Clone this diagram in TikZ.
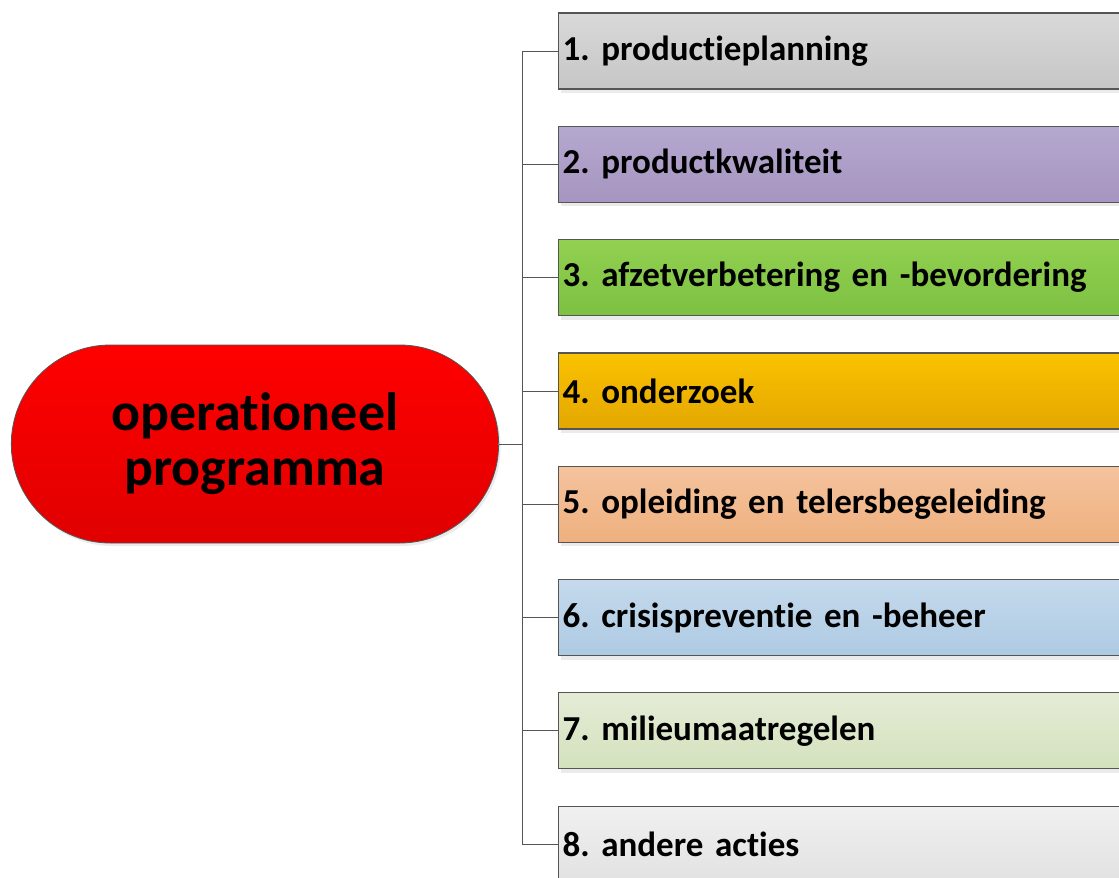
\documentclass[tikz,border=0pt]{standalone}
\usepackage{fontspec}
\setmainfont{Carlito}[Ligatures={NoCommon,NoRare}]
\usetikzlibrary{shapes.misc,shadows}
\frenchspacing

\definecolor{c1t}{HTML}{D9D9D9}\definecolor{c1b}{HTML}{C6C6C6}
\definecolor{c2t}{HTML}{B5A8CF}\definecolor{c2b}{HTML}{A595C0}
\definecolor{c3t}{HTML}{92D050}\definecolor{c3b}{HTML}{7DC142}
\definecolor{c4t}{HTML}{FBC200}\definecolor{c4b}{HTML}{E3A700}
\definecolor{c5t}{HTML}{F5C39E}\definecolor{c5b}{HTML}{EEB07E}
\definecolor{c6t}{HTML}{C5DAEC}\definecolor{c6b}{HTML}{ADCAE3}
\definecolor{c7t}{HTML}{E4ECD6}\definecolor{c7b}{HTML}{D4E1BD}
\definecolor{c8t}{HTML}{F0F0F0}\definecolor{c8b}{HTML}{E2E2E2}
\definecolor{rood}{HTML}{FF0000}\definecolor{roodb}{HTML}{E00000}
\definecolor{rand}{HTML}{555555}

\tikzset{
  hoofd/.style={rounded rectangle, draw=rand, line width=0.8pt,
    top color=rood, bottom color=roodb, minimum width=494pt, minimum height=198pt,
    align=center, font=\fontsize{54}{55}\selectfont\bfseries,
    drop shadow={shadow xshift=2pt, shadow yshift=-3pt, fill=black!8, opacity=1}},
  actie/.style={rectangle, draw=rand, line width=1.2pt, anchor=west,
    minimum height=76pt, text width=600pt, align=left, inner xsep=4pt,
    font=\fontsize{35}{36}\selectfont\bfseries,
    drop shadow={shadow xshift=2pt, shadow yshift=-4pt, fill=black!8, opacity=1}},
  lijn/.style={draw=rand, line width=0.8pt}
}

\begin{document}
\begin{tikzpicture}[x=1pt,y=-1pt]
        \useasboundingbox (0,0) rectangle (1119,878);
        \clip (0,0) rectangle (1119,878);

        % left: central node
        \node[hoofd] (prog) at (255,444) {operationeel\\programma};

        % right: the eight actions
        \foreach \i/\tekst in {1/1. productieplanning,
                               2/2. productkwaliteit,
                               3/3. afzetverbetering en -bevordering,
                               4/4. onderzoek,
                               5/5. opleiding en telersbegeleiding,
                               6/6. crisispreventie en -beheer,
                               7/7. milieumaatregelen,
                               8/8. andere acties} {
            \node[actie, top color=c\i t, bottom color=c\i b] (a\i) at (558,{51+(\i-1)*113.3}) {\tekst};
            \draw[lijn] (a\i.west) -- ++(-36,0) |- (prog.east);
        }
    \end{tikzpicture}
\end{document}
